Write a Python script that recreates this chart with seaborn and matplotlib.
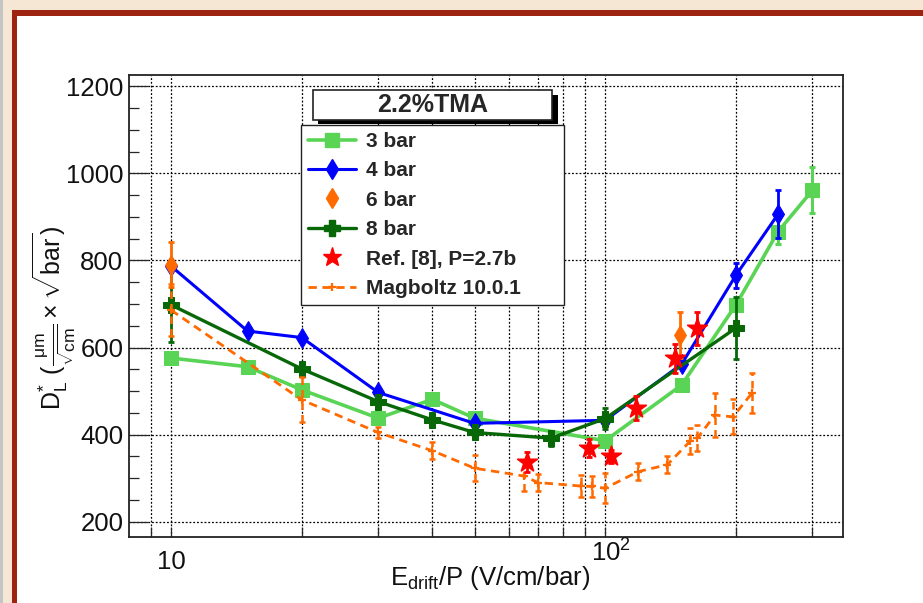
import matplotlib
matplotlib.use("Agg")
import matplotlib.pyplot as plt
import matplotlib.ticker as mticker
from matplotlib.lines import Line2D
from matplotlib.patches import Rectangle
from matplotlib.transforms import blended_transform_factory
import numpy as np
import pandas as pd
import seaborn as sns

# ---------------- data ----------------
e_3bar = [10, 15, 20, 30, 40, 50, 100, 150, 200, 250, 300]
d_3bar = [576, 556, 503, 438, 481, 438, 386, 514, 698, 866, 961]
err_3bar = [0, 0, 0, 0, 0, 0, 0, 0, 0, 29, 53]

e_4bar = [10, 15, 20, 30, 50, 100, 150, 200, 250]
d_4bar = [787, 638, 623, 497, 426, 433, 562, 766, 906]
err_4bar = [0, 0, 0, 0, 0, 0, 0, 29, 55]

e_6bar = [10, 149]
d_6bar = [790, 629]
err_6bar = [52, 52]

e_8bar = [10, 20, 30, 40, 50, 75, 100, 200]
d_8bar = [698, 551, 476, 434, 405, 392, 437, 645]
err_8bar = [85, 0, 0, 0, 0, 17, 25, 72]

e_ref = [66, 92, 103, 118, 145, 163]
d_ref = [338, 369, 350, 461, 575, 644]
err_ref = [23, 21, 15, 27, 34, 38]

e_mag = [10, 20, 30, 40, 50, 65, 70, 88, 93, 100, 119, 139, 157, 163, 179, 197, 218]
d_mag = [686, 480, 405, 363, 323, 305, 290, 282, 281, 277, 315, 331, 385, 392, 445, 441, 496]
err_mag = [60, 52, 12, 20, 30, 35, 20, 25, 25, 35, 20, 20, 30, 30, 50, 40, 46]

labels = ["3 bar", "4 bar", "6 bar", "8 bar", "Ref. [8], P=2.7b", "Magboltz 10.0.1"]
legend_title = "2.2%TMA"
x_tick_values = [10, 100]
x_tick_texts = ["10", r"$\mathregular{10^{2}}$"]
y_major = [200, 400, 600, 800, 1000, 1200]

# ---------------- style ----------------
sns.set_style("white")
plt.rcParams["font.family"] = ["Liberation Sans", "DejaVu Sans"]
plt.rcParams["mathtext.fontset"] = "custom"
plt.rcParams["mathtext.rm"] = "Liberation Sans"
plt.rcParams["mathtext.it"] = "Liberation Sans:italic"
plt.rcParams["mathtext.bf"] = "Liberation Sans:bold"
plt.rcParams["mathtext.sf"] = "Liberation Sans"

W, H = 923, 603
fig = plt.figure(figsize=(W / 100, H / 100), dpi=100, facecolor="#f6e7d5")

# page frame: white sheet with a dark red edge on the top and left
fig.add_artist(Rectangle((0, 0), 3 / W, 1, transform=fig.transFigure,
                         color="#c4c4c4", lw=0, zorder=0))
fig.add_artist(Rectangle((12 / W, 0), 1 - 12 / W, 1 - 10 / H, transform=fig.transFigure,
                         color="#9c2410", lw=0, zorder=0))
fig.add_artist(Rectangle((17 / W, 0), 1 - 17 / W, 1 - 16 / H, transform=fig.transFigure,
                         color="white", lw=0, zorder=0))

L, R, T, B = 129, 843, 75, 537
ax = fig.add_axes([L / W, 1 - B / H, (R - L) / W, (B - T) / H])
ax.set_facecolor("white")
ax.set_xscale("log")
ax.set_xlim(8.0, 353)
ax.set_ylim(165, 1226)


def axf(px, py):
    return (px - L) / (R - L), (B - py) / (B - T)


# ---------------- series ----------------
c3, c4, c6, c8, cr, cm = "#59d454", "#0000ff", "#ff6a00", "#086808", "#ff0000", "#ff6a00"


def draw_errors(x, y, e, color, lw, dashed=False, z=3):
    x = np.asarray(x); y = np.asarray(y); e = np.asarray(e)
    m = e > 0
    if not m.any():
        return
    cont = ax.errorbar(x[m], y[m], yerr=e[m], fmt="none", ecolor=color,
                       elinewidth=lw, capsize=2.5, capthick=lw, zorder=z)
    if dashed:
        for lc in cont.lines[2]:
            lc.set_linestyle((0, (3, 2)))


df3 = pd.DataFrame({"E": e_3bar, "D": d_3bar})
sns.lineplot(data=df3, x="E", y="D", ax=ax, color=c3, lw=2.6, marker="s", ms=10,
             mec=c3, estimator=None, sort=False, legend=False, zorder=3)
draw_errors(e_3bar, d_3bar, err_3bar, c3, 2.2, z=3)

df4 = pd.DataFrame({"E": e_4bar, "D": d_4bar})
sns.lineplot(data=df4, x="E", y="D", ax=ax, color=c4, lw=2.2, marker="d", ms=10.5,
             mec=c4, estimator=None, sort=False, legend=False, zorder=4)
draw_errors(e_4bar, d_4bar, err_4bar, c4, 2.0, z=4)

df8 = pd.DataFrame({"E": e_8bar, "D": d_8bar})
sns.lineplot(data=df8, x="E", y="D", ax=ax, color=c8, lw=2.4, marker="P", ms=11,
             mec=c8, estimator=None, sort=False, legend=False, zorder=5)
draw_errors(e_8bar, d_8bar, err_8bar, c8, 2.0, z=5)

dfm = pd.DataFrame({"E": e_mag, "D": d_mag})
sns.lineplot(data=dfm, x="E", y="D", ax=ax, color=cm, lw=2.0, dashes=False,
             linestyle=(0, (3, 2)), marker="+", ms=6, mew=1.6, mec=cm,
             estimator=None, sort=False, legend=False, zorder=6)
draw_errors(e_mag, d_mag, err_mag, cm, 1.8, dashed=True, z=6)

draw_errors(e_6bar, d_6bar, err_6bar, c6, 2.0, z=7)
sns.scatterplot(x=e_6bar, y=d_6bar, ax=ax, color=c6, marker="d", s=100,
                edgecolor=c6, legend=False, zorder=7)

draw_errors(e_ref, d_ref, err_ref, cr, 2.0, z=8)
sns.scatterplot(x=e_ref, y=d_ref, ax=ax, color=cr, marker="*", s=220,
                edgecolor=cr, legend=False, zorder=8)

# ---------------- axes ----------------
ax.xaxis.set_major_locator(mticker.FixedLocator(x_tick_values))
ax.xaxis.set_minor_locator(mticker.FixedLocator([9, 20, 30, 40, 50, 60, 70, 80, 90, 200, 300]))
ax.xaxis.set_major_formatter(mticker.NullFormatter())
ax.xaxis.set_minor_formatter(mticker.NullFormatter())
ax.yaxis.set_major_locator(mticker.FixedLocator(y_major))
ax.yaxis.set_minor_locator(mticker.MultipleLocator(50))
ax.set_yticklabels([str(v) for v in y_major])

ax.tick_params(axis="y", which="major", direction="in", length=14, width=0.9,
               labelsize=18.5, pad=4, left=True, right=False, labelcolor="#111111")
ax.tick_params(axis="y", which="minor", direction="in", length=7, width=0.9,
               left=True, right=False)
ax.tick_params(axis="x", which="both", direction="in", length=7, width=0.9,
               bottom=True, top=False)

ax.grid(True, axis="x", which="both", color="black", lw=0.9, ls=(0, (1.5, 1.5)), zorder=1)
ax.grid(True, axis="y", which="major", color="black", lw=0.9, ls=(0, (1.5, 1.5)), zorder=1)
ax.set_axisbelow(True)
for s in ax.spines.values():
    s.set_color("#222222")
    s.set_linewidth(1.3)

ax.set_xlabel("")
ax.set_ylabel("")

# decade labels under the x axis
tx = blended_transform_factory(ax.transData, fig.transFigure)
ax.text(x_tick_values[0], 1 - 562 / H, x_tick_texts[0], transform=tx, ha="center",
        va="center", fontsize=18.5, color="#111111")
ax.text(x_tick_values[1] * 1.03, 1 - 553 / H, x_tick_texts[1], transform=tx, ha="center",
        va="center", fontsize=18.5, color="#111111")

fig.text(590 / W, 1 - 578 / H, r"$\mathregular{E_{drift}}$/P (V/cm/bar)",
         ha="right", va="center", fontsize=18.5, color="#111111")
fig.text(54 / W, 1 - 318 / H,
         r"$\mathregular{D^{*}_{L}}$ ($\mathregular{\frac{\mu m}{\sqrt{cm}}\times\sqrt{bar}}$)",
         rotation=90, ha="center", va="center", fontsize=18, color="#111111")

# ---------------- legend ----------------
handles = [
    Line2D([0], [0], color=c3, lw=2.6, marker="s", ms=10, mec=c3),
    Line2D([0], [0], color=c4, lw=2.2, marker="d", ms=10.5, mec=c4),
    Line2D([0], [0], color=c6, ls="none", marker="d", ms=10.5, mec=c6),
    Line2D([0], [0], color=c8, lw=2.4, marker="P", ms=11, mec=c8),
    Line2D([0], [0], color=cr, ls="none", marker="*", ms=14, mec=cr),
    Line2D([0], [0], color=cm, lw=2.0, ls=(0, (3, 2)), marker="+", ms=6, mew=1.6, mec=cm),
]
x0, y0 = axf(301, 302)
x1, y1 = axf(564, 125)
leg = ax.legend(handles, labels, loc="upper left", bbox_to_anchor=(x0, y0, x1 - x0, y1 - y0),
                mode="expand", borderaxespad=0, frameon=True, fancybox=False,
                framealpha=1, edgecolor="#222222", handlelength=2.3, handletextpad=0.48,
                labelspacing=0.5, borderpad=0.33,
                prop={"weight": "bold", "size": 15})
leg.get_frame().set_linewidth(1.0)
leg.set_zorder(20)

# title box with drop shadow above the legend
sx0, sy0 = axf(318, 124)
sx1, sy1 = axf(558, 95)
ax.add_patch(Rectangle((sx0, sy0), sx1 - sx0, sy1 - sy0, transform=ax.transAxes,
                       facecolor="black", edgecolor="none", zorder=21, clip_on=False))
bx0, by0 = axf(313, 120)
bx1, by1 = axf(552, 90)
ax.add_patch(Rectangle((bx0, by0), bx1 - bx0, by1 - by0, transform=ax.transAxes,
                       facecolor="white", edgecolor="#222222", lw=1.2, zorder=22, clip_on=False))
ax.text((bx0 + bx1) / 2, (by0 + by1) / 2, legend_title, transform=ax.transAxes,
        ha="center", va="center", fontsize=18, fontweight="bold", zorder=23)

fig.savefig("out.png", dpi=100, facecolor=fig.get_facecolor())
